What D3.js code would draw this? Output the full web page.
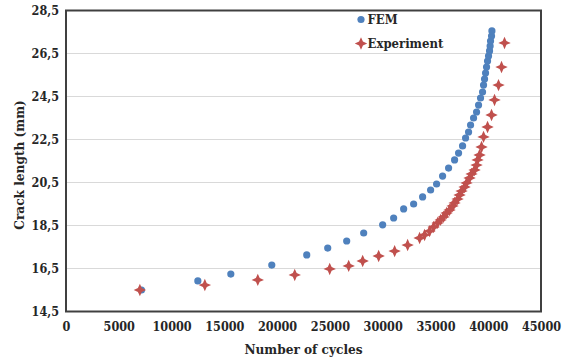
<!DOCTYPE html>
<html>
<head>
<meta charset="utf-8">
<script src="https://cdn.jsdelivr.net/npm/d3@7"></script>
<style>
  html, body { margin: 0; padding: 0; background: #fff; }
  svg { display: block; }
  text { font-family: "DejaVu Serif Condensed", "DejaVu Serif", serif; font-stretch: condensed; font-weight: bold; fill: #262626; }
</style>
</head>
<body>
<svg id="chart" width="569" height="358"></svg>
<script>
// Crack growth: FEM prediction vs. experiment
const femCycles = [7150, 12490, 15615, 19495, 22807, 24794, 26592, 28201, 29999, 31040,
  31987, 32933, 33785, 34542, 35109, 35677, 36245, 36813, 37191, 37570,
  37854, 38138, 38327, 38611, 38895, 39084, 39273, 39463, 39557, 39652,
  39747, 39841, 39936, 40030, 40125, 40180, 40220, 40314, 40350];
const femCrack = [15.50, 15.92, 16.24, 16.66, 17.13, 17.45, 17.78, 18.15, 18.53, 18.85,
  19.27, 19.50, 19.83, 20.15, 20.43, 20.80, 21.17, 21.55, 21.87, 22.20,
  22.57, 22.85, 23.17, 23.50, 23.78, 24.10, 24.43, 24.71, 25.03, 25.31,
  25.59, 25.87, 26.15, 26.38, 26.62, 26.85, 27.08, 27.31, 27.55];

const expCycles = [7000, 13154, 18170, 21671, 24983, 26781, 28106, 29620, 31134, 32365,
  33500, 33974, 34447, 34825, 35204, 35488, 35772, 36056, 36339, 36623,
  36813, 37097, 37286, 37475, 37759, 37948, 38232, 38421, 38705, 38895,
  38989, 39179, 39368, 39557, 39936, 40314, 40598, 40976, 41260, 41544];
const expCrack = [15.50, 15.73, 15.97, 16.20, 16.48, 16.62, 16.85, 17.08, 17.31, 17.59,
  17.92, 18.06, 18.24, 18.43, 18.62, 18.76, 18.90, 19.08, 19.22, 19.41,
  19.55, 19.73, 19.92, 20.10, 20.29, 20.48, 20.71, 20.90, 21.08, 21.31,
  21.55, 21.78, 22.15, 22.62, 23.08, 23.64, 24.34, 25.03, 25.87, 26.99];

const xTicks = [0, 5000, 10000, 15000, 20000, 25000, 30000, 35000, 40000, 45000];
const yTicks = [14.5, 16.5, 18.5, 20.5, 22.5, 24.5, 26.5, 28.5];
const seriesNames = ["FEM", "Experiment"];

const colors = { fem: "#4F81BD", exp: "#C0504D", grid: "#D9D9D9", frame: "#404040" };
const plot = { left: 66, top: 10.5, right: 541, bottom: 311.5 };

const svg = d3.select("#chart");
const x = d3.scaleLinear().domain([0, 45000]).range([plot.left, plot.right]);
const y = d3.scaleLinear().domain([14.5, 28.5]).range([plot.bottom, plot.top]);

// horizontal gridlines
svg.append("g")
  .selectAll("line")
  .data(yTicks.slice(1, -1))
  .join("line")
  .attr("x1", plot.left).attr("x2", plot.right)
  .attr("y1", d => y(d)).attr("y2", d => y(d))
  .attr("stroke", colors.grid).attr("stroke-width", 1);

// axes (labels only; the frame is drawn separately)
const fmt = d => d3.format(".1f")(d).replace(".", ",");
const yAxis = svg.append("g")
  .attr("transform", `translate(${plot.left},0)`)
  .call(d3.axisLeft(y).tickValues(yTicks).tickFormat(fmt).tickSize(0).tickPadding(7));
const xAxis = svg.append("g")
  .attr("transform", `translate(0,${plot.bottom})`)
  .call(d3.axisBottom(x).tickValues(xTicks).tickFormat(d3.format("d")).tickSize(0).tickPadding(11));
[yAxis, xAxis].forEach(g => {
  g.select(".domain").remove();
  g.selectAll("text").attr("font-size", 12.5)
    .style("font-family", null).attr("font-family", null).attr("fill", "#262626");
});

// plot frame
svg.append("rect")
  .attr("x", plot.left).attr("y", plot.top)
  .attr("width", plot.right - plot.left).attr("height", plot.bottom - plot.top)
  .attr("fill", "none").attr("stroke", colors.frame).attr("stroke-width", 2);

// four-point star marker
function sparkle(r, ri) {
  const p = d3.path();
  for (let i = 0; i < 8; i++) {
    const a = i * Math.PI / 4 - Math.PI / 2;
    const rr = i % 2 === 0 ? r : ri;
    const px = rr * Math.cos(a), py = rr * Math.sin(a);
    if (i === 0) p.moveTo(px, py); else p.lineTo(px, py);
  }
  p.closePath();
  return p.toString();
}
const starPath = sparkle(6.2, 2.7);

const fem = femCycles.map((c, i) => ({ c, v: femCrack[i] }));
const exp = expCycles.map((c, i) => ({ c, v: expCrack[i] }));

svg.append("g").selectAll("circle")
  .data(fem).join("circle")
  .attr("cx", d => x(d.c)).attr("cy", d => y(d.v))
  .attr("r", 3.6).attr("fill", colors.fem);

svg.append("g").selectAll("path")
  .data(exp).join("path")
  .attr("d", starPath)
  .attr("transform", d => `translate(${x(d.c)},${y(d.v)})`)
  .attr("fill", colors.exp);

// legend
const legend = svg.append("g");
legend.append("circle").attr("cx", 361).attr("cy", 19.5).attr("r", 3.6).attr("fill", colors.fem);
legend.append("path").attr("d", starPath).attr("transform", "translate(361,43.5)").attr("fill", colors.exp);
legend.append("text").attr("x", 367.5).attr("y", 24).attr("font-size", 13).text(seriesNames[0]);
legend.append("text").attr("x", 367.5).attr("y", 48).attr("font-size", 13).text(seriesNames[1]);

// axis titles
svg.append("text")
  .attr("x", (plot.left + plot.right) / 2).attr("y", 354)
  .attr("text-anchor", "middle").attr("font-size", 13.5)
  .text("Number of cycles");
svg.append("text")
  .attr("transform", "translate(24,165) rotate(-90)")
  .attr("text-anchor", "middle").attr("font-size", 13.5)
  .text("Crack length (mm)");
</script>
</body>
</html>
